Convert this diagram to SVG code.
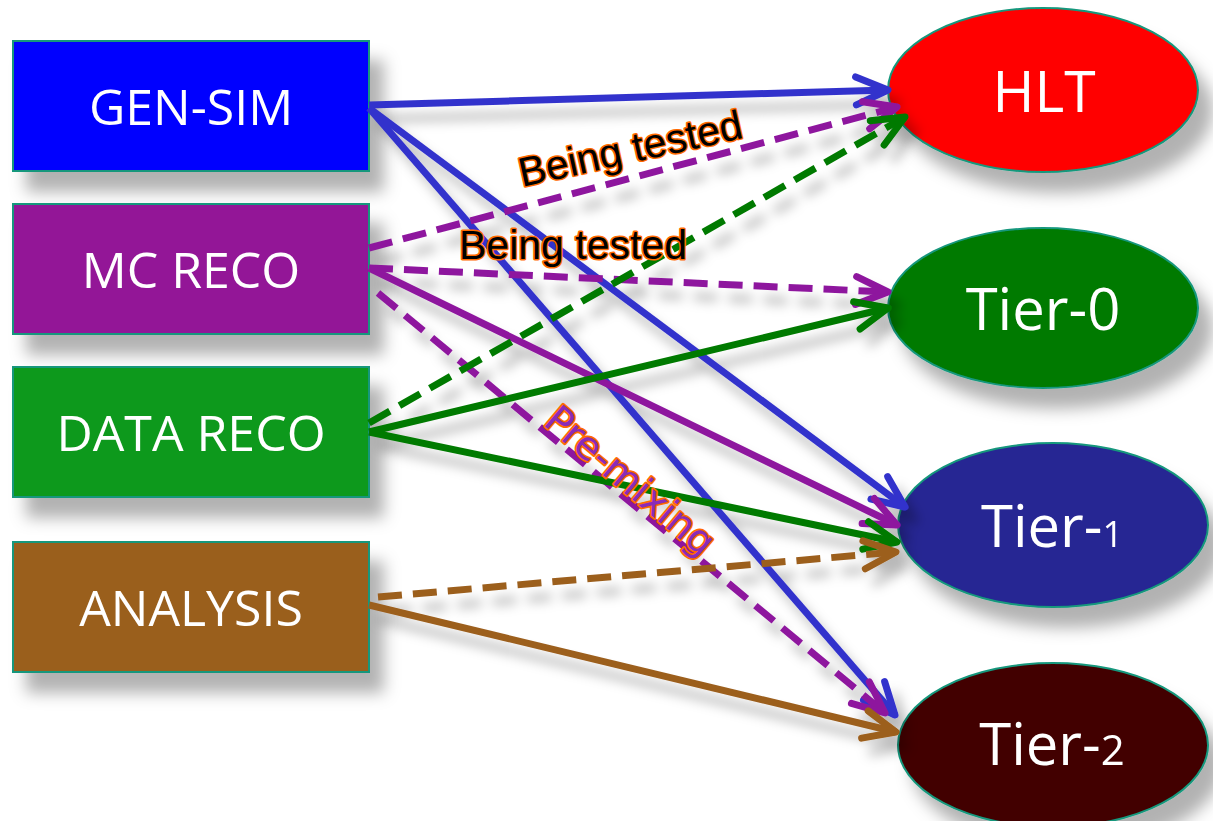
<svg xmlns="http://www.w3.org/2000/svg" width="1213" height="821" viewBox="0 0 1213 821">
<style>
.box{stroke:#14977c;stroke-width:2}
.ell{stroke:#14977c;stroke-width:2}
.nt{font-family:"Open Sans","Noto Sans",sans-serif;fill:#fff;text-anchor:middle}
.c{fill:none;stroke-width:7}
.d{stroke-dasharray:24 11}
.lb{font-family:"Liberation Sans",Arial,sans-serif;font-size:41px;stroke:#ff6a00;stroke-width:3;stroke-linejoin:round;paint-order:stroke}
.pm{font-family:"DejaVu Sans",sans-serif;font-size:39px;stroke:#ff6a00;stroke-width:3.5;stroke-linejoin:round;paint-order:stroke}
</style>
<defs>
<filter id="sh" x="-20%" y="-20%" width="150%" height="160%">
<feDropShadow dx="14" dy="20" stdDeviation="8" flood-color="#000" flood-opacity="0.3"/>
</filter>
<filter id="shl" x="-10%" y="-10%" width="130%" height="130%">
<feDropShadow dx="10" dy="14" stdDeviation="6" flood-color="#000" flood-opacity="0.28"/>
</filter>
<marker id="ab" markerUnits="userSpaceOnUse" markerWidth="60" markerHeight="60" viewBox="-45 -30 60 60" refX="0" refY="0" orient="auto" overflow="visible"><path d="M-32,-14 L0,0 L-32,14" fill="none" stroke="#3333cc" stroke-width="7" stroke-linecap="round" stroke-linejoin="round"/></marker>
<marker id="ap" markerUnits="userSpaceOnUse" markerWidth="60" markerHeight="60" viewBox="-45 -30 60 60" refX="0" refY="0" orient="auto" overflow="visible"><path d="M-32,-14 L0,0 L-32,14" fill="none" stroke="#8e189e" stroke-width="7" stroke-linecap="round" stroke-linejoin="round"/></marker>
<marker id="ag" markerUnits="userSpaceOnUse" markerWidth="60" markerHeight="60" viewBox="-45 -30 60 60" refX="0" refY="0" orient="auto" overflow="visible"><path d="M-32,-14 L0,0 L-32,14" fill="none" stroke="#007a00" stroke-width="7" stroke-linecap="round" stroke-linejoin="round"/></marker>
<marker id="an" markerUnits="userSpaceOnUse" markerWidth="60" markerHeight="60" viewBox="-45 -30 60 60" refX="0" refY="0" orient="auto" overflow="visible"><path d="M-32,-14 L0,0 L-32,14" fill="none" stroke="#9c5f1e" stroke-width="7" stroke-linecap="round" stroke-linejoin="round"/></marker>
</defs>
<rect width="1213" height="821" fill="#fff"/>
<g filter="url(#sh)">
<g id="gen-sim"><rect class="box" x="13" y="41" width="356" height="130" fill="#0000ff"/><text class="nt" x="191" y="125" font-size="50">GEN-SIM</text></g>
<g id="mc-reco"><rect class="box" x="13" y="204" width="356" height="130" fill="#931797"/><text class="nt" x="191" y="288" font-size="50">MC RECO</text></g>
<g id="data-reco"><rect class="box" x="13" y="367" width="356" height="130" fill="#11991f"/><text class="nt" x="191" y="451" font-size="50">DATA RECO</text></g>
<g id="analysis"><rect class="box" x="13" y="542" width="356" height="130" fill="#9a5f1c"/><text class="nt" x="191" y="626" font-size="50">ANALYSIS</text></g>
<g id="hlt"><ellipse class="ell" cx="1043" cy="90" rx="155" ry="82" fill="#ff0000"/><text class="nt" x="1044" y="112" font-size="57">HLT</text></g>
<g id="tier-0"><ellipse class="ell" cx="1043" cy="308" rx="155" ry="80" fill="#007a00"/><text class="nt" x="1043" y="330" font-size="58">Tier-0</text></g>
<g id="tier-1"><ellipse class="ell" cx="1053" cy="525" rx="155" ry="82" fill="#262693"/><text class="nt" x="1052" y="547" font-size="58">Tier-<tspan font-size="36">1</tspan></text></g>
<g id="tier-2"><ellipse class="ell" cx="1053" cy="745" rx="155" ry="82" fill="#420000"/><text class="nt" x="1052" y="765" font-size="58">Tier-<tspan font-size="42">2</tspan></text></g>
</g>
<g id="connectors" filter="url(#shl)">
<line class="c" x1="369" y1="105" x2="888" y2="90" stroke="#3333cc" marker-end="url(#ab)"/>
<line class="c" x1="369" y1="108" x2="905" y2="507" stroke="#3333cc" marker-end="url(#ab)"/>
<line class="c" x1="369" y1="108" x2="895" y2="715" stroke="#3333cc" marker-end="url(#ab)"/>
<line class="c d" x1="369" y1="248" x2="897" y2="107" stroke="#8e189e" marker-end="url(#ap)"/>
<line class="c d" x1="369" y1="268" x2="888" y2="292" stroke="#8e189e" marker-end="url(#ap)"/>
<line class="c" x1="369" y1="268" x2="897" y2="525" stroke="#8e189e" marker-end="url(#ap)"/>
<line class="c d" x1="378" y1="293" x2="885" y2="713" stroke="#8e189e" marker-end="url(#ap)"/>
<line class="c d" x1="369" y1="423" x2="905" y2="117" stroke="#007a00" marker-end="url(#ag)"/>
<line class="c" x1="369" y1="432" x2="888" y2="308" stroke="#007a00" marker-end="url(#ag)"/>
<line class="c" x1="369" y1="432" x2="897" y2="542" stroke="#007a00" marker-end="url(#ag)"/>
<line class="c d" x1="378" y1="597" x2="896" y2="552" stroke="#9c5f1e" marker-end="url(#an)"/>
<line class="c" x1="369" y1="605" x2="896" y2="732" stroke="#9c5f1e" marker-end="url(#an)"/>
</g>
<g id="labels">
<text class="lb" x="522" y="187" fill="#000" transform="rotate(-12.5 522 187)">Being tested</text>
<text class="lb" x="459" y="259" fill="#000">Being tested</text>
<text class="pm" x="542" y="424" fill="#8a2cb8" transform="rotate(40 542 424)">Pre-mixing</text>
</g>
</svg>
